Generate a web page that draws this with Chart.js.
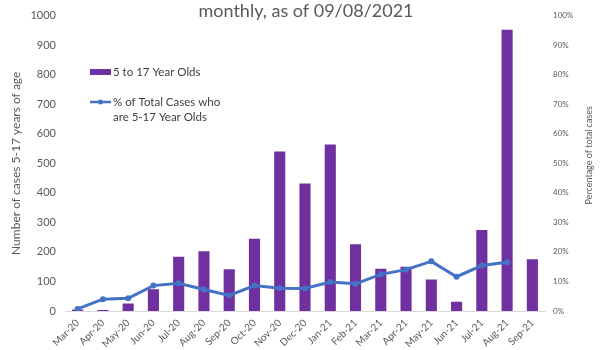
<!DOCTYPE html>
<html>
<head>
<meta charset="utf-8">
<script src="https://cdn.jsdelivr.net/npm/chart.js@4"></script>
<style>
  html, body { margin: 0; padding: 0; background: #fff; }
  #wrap { width: 600px; height: 350px; }
</style>
</head>
<body>
<div id="wrap"><canvas id="myChart"></canvas></div>
<script>
// months
var months = ['Mar-20', 'Apr-20', 'May-20', 'Jun-20', 'Jul-20', 'Aug-20', 'Sep-20', 'Oct-20', 'Nov-20', 'Dec-20',
  'Jan-21', 'Feb-21', 'Mar-21', 'Apr-21', 'May-21', 'Jun-21', 'Jul-21', 'Aug-21', 'Sep-21'];
// number of cases 5-17 year olds
var cases = [5, 3, 25, 74, 184, 202, 141, 245, 540, 432, 564, 226, 143, 150, 107, 31, 274, 952, 175];
// % of total cases who are 5-17
var pctCases = [0.7, 4.0, 4.3, 8.6, 9.4, 7.3, 5.3, 8.6, 7.7, 7.6, 9.8, 9.2, 12.4, 14.0, 16.8, 11.6, 15.4, 16.5, null];

var barLabel = '5 to 17 Year Olds';
var lineLabel = ['% of Total Cases who', 'are 5-17 Year Olds'];
var titleText = 'monthly, as of 09/08/2021';
var rightTitle = 'Percentage of total cases';

var purple = '#7030A0';
var blue = '#4472C4';
var grey = '#595959';
var font = 'Lato, "Open Sans", sans-serif';

// title, legend and right axis title drawn by hand like the excel chart
var extras = {
  id: 'extras',
  afterDraw: function (chart) {
    var c = chart.ctx;
    var area = chart.chartArea;
    c.save();
    c.fillStyle = grey;
    c.font = '18px ' + font;
    c.textAlign = 'center';
    c.textBaseline = 'middle';
    c.fillText(titleText, 306, 11);

    // right axis title, reading bottom to top
    c.save();
    c.translate(589, (area.top + area.bottom) / 2 - 8);
    c.rotate(-Math.PI / 2);
    c.font = '9px ' + font;
    c.fillText(rightTitle, 0, 0);
    c.restore();

    c.textAlign = 'left';
    c.font = '11.5px ' + font;
    c.fillStyle = purple;
    c.fillRect(90, 69, 21, 6);
    c.fillStyle = '#404040';
    c.fillText(barLabel, 113, 72);

    c.strokeStyle = blue;
    c.lineWidth = 2.5;
    c.beginPath();
    c.moveTo(90, 102);
    c.lineTo(111, 102);
    c.stroke();
    c.fillStyle = blue;
    c.beginPath();
    c.arc(100.5, 102, 2.5, 0, Math.PI * 2);
    c.fill();
    c.fillStyle = '#404040';
    c.fillText(lineLabel[0], 113, 102);
    c.fillText(lineLabel[1], 113, 117);
    c.restore();
  }
};

var ctx = document.getElementById('myChart').getContext('2d');
var chart = new Chart(ctx, {
  type: 'bar',
  data: {
    labels: months,
    datasets: [{
      type: 'line',
      label: 'pct',
      data: pctCases,
      yAxisID: 'y1',
      borderColor: blue,
      backgroundColor: blue,
      borderWidth: 3,
      pointRadius: 3,
      pointBackgroundColor: blue,
      pointBorderWidth: 0,
      tension: 0,
      order: 0
    }, {
      label: barLabel,
      data: cases,
      yAxisID: 'y',
      backgroundColor: purple,
      barPercentage: 0.44,
      categoryPercentage: 1,
      order: 1
    }]
  },
  options: {
    responsive: true,
    maintainAspectRatio: false,
    animation: false,
    layout: { padding: { top: 14, right: 0, left: 9, bottom: 0 } },
    plugins: {
      legend: { display: false },
      tooltip: { enabled: false }
    },
    scales: {
      x: {
        grid: { display: false, drawTicks: false },
        border: { display: true, color: '#d9d9d9' },
        afterFit: function (scale) { scale.height = 39; },
        ticks: {
          color: grey,
          font: { family: font, size: 10 },
          maxRotation: 45,
          minRotation: 45,
          autoSkip: false,
          padding: 6
        }
      },
      y: {
        position: 'left',
        min: 0,
        max: 1000,
        grid: { display: false, drawTicks: false },
        border: { display: false },
        afterFit: function (scale) { scale.width = 56; },
        ticks: {
          stepSize: 100,
          color: grey,
          font: { family: font, size: 11 },
          padding: 9,
          callback: function (v) { return String(v); }
        },
        title: {
          display: true,
          text: 'Number of cases 5-17 years of age',
          color: grey,
          font: { family: font, size: 12 },
          padding: { top: 0, bottom: 0 }
        }
      },
      y1: {
        position: 'right',
        min: 0,
        max: 100,
        grid: { display: false, drawTicks: false },
        border: { display: false },
        afterFit: function (scale) { scale.width = 55; },
        ticks: {
          stepSize: 10,
          color: grey,
          font: { family: font, size: 8 },
          padding: 8,
          callback: function (v) { return v + '%'; }
        }
      }
    }
  },
  plugins: [extras]
});
</script>
</body>
</html>
